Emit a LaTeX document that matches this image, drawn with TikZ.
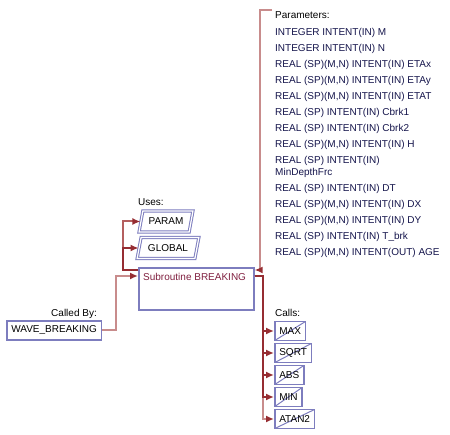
\documentclass[tikz,border=0pt]{standalone}
\usepackage{fontspec}
\setmainfont{Liberation Sans}
\usetikzlibrary{arrows.meta,shapes.geometric}

\definecolor{boxblue}{RGB}{125,125,190}
\definecolor{subred}{RGB}{128,32,64}
\definecolor{darklink}{RGB}{150,45,50}
\definecolor{pinklink}{RGB}{200,140,140}
\definecolor{midlink}{RGB}{180,95,95}
\definecolor{partext}{RGB}{20,20,75}

\begin{document}
\begin{tikzpicture}[x=1pt,y=-1pt,
  every node/.style={font=\fontsize{10}{12}\selectfont},
  unitbox/.style={draw=boxblue,line width=1.6pt,fill=white,inner xsep=4.5pt,inner ysep=0pt,minimum height=19pt},
  extbox/.style={unitbox,path picture={\draw[boxblue,line width=1pt] (path picture bounding box.south west) -- (path picture bounding box.north east);}},
  modbox/.style={trapezium,trapezium left angle=76,trapezium right angle=104,trapezium stretches=true,draw=boxblue,double=white,double distance=1.2pt,line width=1pt,minimum height=21pt},
  link/.style={line width=2pt,-{Latex[length=8pt,width=7pt,color=darklink]}},
  ]
  \useasboundingbox (0,0) rectangle (450,435);
  % subroutine
  \node[draw=boxblue,line width=1.6pt,minimum width=115pt,minimum height=42pt,anchor=north west] (brk) at (138,267) {};
  \node[subred,anchor=north west,inner sep=0pt] (brktitle) at (143,273.5) {Subroutine BREAKING};
  % uses
  \node[anchor=base west,inner sep=0pt] (uses) at (138,205.3) {Uses:};
  \node[modbox,minimum width=54pt] (param) at (166,221.5) {PARAM};
  \node[modbox,minimum width=62pt] (global) at (168,248) {GLOBAL};
  % called by
  \node[anchor=base east,inner sep=0pt] (calledby) at (97,316.6) {Called By:};
  \node[unitbox,minimum width=93.5pt,anchor=west] (wave) at (6,330.5) {WAVE\_BREAKING};
  % calls
  \node[anchor=base west,inner sep=0pt] (calls) at (275,316.3) {Calls:};
  \node[extbox,anchor=west] (max) at (274,331) {MAX};
  \node[extbox,anchor=west] (sqrt) at (274,353) {SQRT};
  \node[extbox,anchor=west] (abs) at (274,375) {ABS};
  \node[extbox,anchor=west] (min) at (274,397) {MIN};
  \node[extbox,anchor=west] (atan) at (274,419) {ATAN2};
  % parameters
  \node[anchor=base west,inner sep=0pt] (partitle) at (275,18.6) {Parameters:};
  \node[partext,anchor=base west,inner sep=0pt,align=left] (parlist) at (275,255.3) {INTEGER INTENT(IN) M\\[3.9pt]
    INTEGER INTENT(IN) N\\[3.9pt]
    REAL (SP)(M,N) INTENT(IN) ETAx\\[3.9pt]
    REAL (SP)(M,N) INTENT(IN) ETAy\\[3.9pt]
    REAL (SP)(M,N) INTENT(IN) ETAT\\[3.9pt]
    REAL (SP) INTENT(IN) Cbrk1\\[3.9pt]
    REAL (SP) INTENT(IN) Cbrk2\\[3.9pt]
    REAL (SP)(M,N) INTENT(IN) H\\[3.9pt]
    REAL (SP) INTENT(IN)\\
    MinDepthFrc\\[4.6pt]
    REAL (SP) INTENT(IN) DT\\[3.9pt]
    REAL (SP)(M,N) INTENT(IN) DX\\[3.9pt]
    REAL (SP)(M,N) INTENT(IN) DY\\[3.9pt]
    REAL (SP) INTENT(IN) T\_brk\\[3.9pt]
    REAL (SP)(M,N) INTENT(OUT) AGE};
  % links
  \draw[link,pinklink] ([xshift=-3pt,yshift=1.5pt]partitle.north west) -- ++(-12,0) |- ([yshift=-3pt]brk.north east);
  \draw[link,pinklink] (wave.east) -- ++(14,0) |- ([yshift=-9pt]brk.north west);
  \draw[link,midlink] ([yshift=-3pt]brk.north west) -- ++(-15,0) |- (param.west);
  \draw[link,darklink] ([yshift=-3pt]brk.north west) -- ++(-15,0) |- (global.west);
  \draw[link,pinklink] ([yshift=-9pt]brk.north east) -- ++(8,0) |- (atan.west);
  \foreach \c in {min,abs,sqrt,max}
    \draw[link,darklink,line width=2.2pt] ([yshift=-9pt]brk.north east) -- ++(8,0) |- (\c.west);
\end{tikzpicture}
\end{document}
